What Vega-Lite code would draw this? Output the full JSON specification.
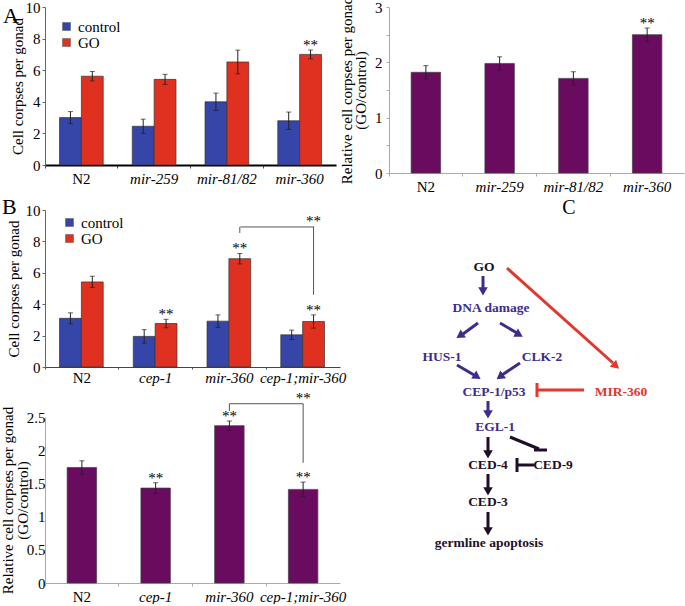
{
  "$schema": "https://vega.github.io/schema/vega-lite/v6.json",
  "padding": {"left": 0, "top": -4, "right": 0, "bottom": 0},
  "background": "white",
  "spacing": 2,
  "resolve": {"scale": {"color": "independent"}, "legend": {"color": "independent"}},
  "config": {
    "font": "Liberation Serif",
    "view": {"stroke": null},
    "axis": {"labelFont": "Liberation Serif", "titleFont": "Liberation Serif", "labelFontSize": 15, "titleFontSize": 15, "titleFontWeight": "normal", "labelColor": "#000", "titleColor": "#000", "grid": false, "domainColor": "#888", "tickColor": "#888", "labelOverlap": false},
    "axisY": {"labelOverlap": false, "labelSeparation": -30},
    "legend": {"labelFont": "Liberation Serif", "labelFontSize": 15, "labelColor": "#000"},
    "title": {"font": "Liberation Serif", "fontSize": 22, "fontWeight": "normal", "color": "#000"},
    "text": {"font": "Liberation Serif"}
  },
  "datasets": {
    "a1": [
      {"strain": "N2", "group": "control", "mean": 3.0, "lo": 2.62, "hi": 3.38, "sig": ""},
      {"strain": "N2", "group": "GO", "mean": 5.62, "lo": 5.32, "hi": 5.92, "sig": ""},
      {"strain": "mir-259", "group": "control", "mean": 2.45, "lo": 2.0, "hi": 2.9, "sig": ""},
      {"strain": "mir-259", "group": "GO", "mean": 5.42, "lo": 5.1, "hi": 5.74, "sig": ""},
      {"strain": "mir-81/82", "group": "control", "mean": 4.0, "lo": 3.45, "hi": 4.55, "sig": ""},
      {"strain": "mir-81/82", "group": "GO", "mean": 6.52, "lo": 5.77, "hi": 7.27, "sig": ""},
      {"strain": "mir-360", "group": "control", "mean": 2.8, "lo": 2.25, "hi": 3.35, "sig": ""},
      {"strain": "mir-360", "group": "GO", "mean": 7.0, "lo": 6.72, "hi": 7.28, "sig": "**"}
    ],
    "a2": [
      {"strain": "N2", "mean": 1.82, "lo": 1.7, "hi": 1.94, "sig": ""},
      {"strain": "mir-259", "mean": 1.98, "lo": 1.86, "hi": 2.1, "sig": ""},
      {"strain": "mir-81/82", "mean": 1.71, "lo": 1.59, "hi": 1.83, "sig": ""},
      {"strain": "mir-360", "mean": 2.5, "lo": 2.38, "hi": 2.62, "sig": "**"}
    ],
    "b1": [
      {"strain": "N2", "group": "control", "mean": 3.1, "lo": 2.75, "hi": 3.45, "sig": ""},
      {"strain": "N2", "group": "GO", "mean": 5.42, "lo": 5.06, "hi": 5.78, "sig": ""},
      {"strain": "cep-1", "group": "control", "mean": 1.95, "lo": 1.52, "hi": 2.38, "sig": ""},
      {"strain": "cep-1", "group": "GO", "mean": 2.77, "lo": 2.5, "hi": 3.04, "sig": "**"},
      {"strain": "mir-360", "group": "control", "mean": 2.92, "lo": 2.52, "hi": 3.32, "sig": ""},
      {"strain": "mir-360", "group": "GO", "mean": 6.9, "lo": 6.57, "hi": 7.23, "sig": "**"},
      {"strain": "cep-1;mir-360", "group": "control", "mean": 2.05, "lo": 1.75, "hi": 2.35, "sig": ""},
      {"strain": "cep-1;mir-360", "group": "GO", "mean": 2.9, "lo": 2.48, "hi": 3.32, "sig": "**"}
    ],
    "b1legs": [
      {"strain": "mir-360", "group": "GO", "top": 8.92, "bottom": 8.54, "sig": ""},
      {"strain": "cep-1;mir-360", "group": "GO", "top": 8.92, "bottom": 4.6, "sig": "**"}
    ],
    "b1span": [{"from": "mir-360", "to": "cep-1;mir-360", "level": 8.92}],
    "b2": [
      {"strain": "N2", "mean": 1.74, "lo": 1.64, "hi": 1.84, "sig": ""},
      {"strain": "cep-1", "mean": 1.43, "lo": 1.35, "hi": 1.51, "sig": "**"},
      {"strain": "mir-360", "mean": 2.37, "lo": 2.3, "hi": 2.44, "sig": "**"},
      {"strain": "cep-1;mir-360", "mean": 1.41, "lo": 1.3, "hi": 1.52, "sig": "**"}
    ],
    "b2legs": [
      {"strain": "mir-360", "top": 2.7, "bottom": 2.59, "sig": ""},
      {"strain": "cep-1;mir-360", "top": 2.7, "bottom": 1.81, "sig": "**"}
    ],
    "b2span": [{"from": "mir-360", "to": "cep-1;mir-360", "level": 2.7}],
    "cText": [
      {"label": "GO", "x": 483, "y": 267, "role": "input"},
      {"label": "DNA damage", "x": 490, "y": 308, "role": "pathway"},
      {"label": "HUS-1", "x": 441, "y": 357, "role": "pathway"},
      {"label": "CLK-2", "x": 541, "y": 357, "role": "pathway"},
      {"label": "CEP-1/p53", "x": 493, "y": 392, "role": "pathway"},
      {"label": "MIR-360", "x": 620, "y": 392, "role": "mirna"},
      {"label": "EGL-1", "x": 494, "y": 427, "role": "pathway"},
      {"label": "CED-4", "x": 487, "y": 465, "role": "apoptosis"},
      {"label": "CED-9", "x": 552, "y": 465, "role": "apoptosis"},
      {"label": "CED-3", "x": 487, "y": 502, "role": "apoptosis"},
      {"label": "germline apoptosis", "x": 488, "y": 543, "role": "apoptosis"}
    ],
    "cLines": [
      {"x": 482, "y": 276, "x2": 482, "y2": 288, "role": "pathway"},
      {"x": 477, "y": 323, "x2": 462, "y2": 334, "role": "pathway"},
      {"x": 499, "y": 323, "x2": 516, "y2": 333, "role": "pathway"},
      {"x": 456, "y": 365, "x2": 473, "y2": 375, "role": "pathway"},
      {"x": 519, "y": 363, "x2": 501, "y2": 375, "role": "pathway"},
      {"x": 487, "y": 401, "x2": 487, "y2": 411, "role": "pathway"},
      {"x": 487, "y": 437, "x2": 487, "y2": 451, "role": "apoptosis"},
      {"x": 487, "y": 474, "x2": 487, "y2": 488, "role": "apoptosis"},
      {"x": 487, "y": 512, "x2": 487, "y2": 528, "role": "apoptosis"},
      {"x": 506, "y": 268, "x2": 612, "y2": 363, "role": "mirna"},
      {"x": 583, "y": 390, "x2": 536, "y2": 390, "role": "mirna"},
      {"x": 536, "y": 383, "x2": 536, "y2": 397, "role": "mirna"},
      {"x": 533, "y": 465, "x2": 516, "y2": 465, "role": "apoptosis"},
      {"x": 516, "y": 458, "x2": 516, "y2": 472, "role": "apoptosis"},
      {"x": 509, "y": 437, "x2": 538, "y2": 449, "role": "apoptosis"},
      {"x": 533, "y": 450, "x2": 546, "y2": 450, "role": "apoptosis"}
    ],
    "cHeads": [
      {"x": 482, "y": 290, "angle": 180, "role": "pathway"},
      {"x": 460, "y": 335, "angle": -124, "role": "pathway"},
      {"x": 517, "y": 334, "angle": 120, "role": "pathway"},
      {"x": 475, "y": 376, "angle": 122, "role": "pathway"},
      {"x": 500, "y": 376, "angle": -127, "role": "pathway"},
      {"x": 487, "y": 413, "angle": 180, "role": "pathway"},
      {"x": 487, "y": 453, "angle": 180, "role": "apoptosis"},
      {"x": 487, "y": 490, "angle": 180, "role": "apoptosis"},
      {"x": 487, "y": 530, "angle": 180, "role": "apoptosis"},
      {"x": 614, "y": 365, "angle": 132, "role": "mirna"}
    ],
    "cLetter": [{"label": "C", "x": 568, "y": 208}]
  },
  "vconcat": [
    {
      "spacing": 3,
      "resolve": {"scale": {"color": "independent"}, "legend": {"color": "independent"}},
      "hconcat": [
        {
          "width": 291, "height": 158,
          "title": {"text": "A", "anchor": "start", "frame": "group", "orient": "top", "dx": -42, "offset": -28, "font": "Liberation Serif"},
          "data": {"name": "a1"},
          "encoding": {
            "x": {"field": "strain", "type": "nominal", "scale": {"domain": ["N2", "mir-259", "mir-81/82", "mir-360"], "paddingInner": 0, "paddingOuter": 0},
              "axis": {"title": null, "labelAngle": 0, "bandPosition": 0, "tickSize": 3, "labelPadding": 3, "domainColor": "#000", "domainWidth": 2, "tickColor": "#555",
                "labelFontStyle": {"condition": {"test": "datum.value == 'N2'", "value": "normal"}, "value": "italic"}}}
          },
          "layer": [
            {"mark": {"type": "bar", "stroke": "#333", "strokeWidth": 0.7},
             "encoding": {
               "xOffset": {"field": "group", "type": "nominal", "scale": {"domain": ["control", "GO"], "paddingOuter": 0.665, "paddingInner": 0}},
               "y": {"field": "mean", "type": "quantitative", "scale": {"domain": [0, 10], "nice": false},
                 "axis": {"title": "Cell corpses per gonad", "values": [0, 2, 4, 6, 8, 10], "format": "d", "labelOverlap": false, "labelSeparation": -30, "tickSize": 3, "labelPadding": 2, "titlePadding": 0, "domainColor": "#666", "tickColor": "#666"}},
               "color": {"field": "group", "type": "nominal", "scale": {"domain": ["control", "GO"], "range": ["#3545a8", "#e0301f"]},
                 "legend": {"title": null, "orient": "none", "legendX": 14, "legendY": 12, "symbolType": "square", "symbolSize": 64, "symbolStrokeColor": "#555", "symbolStrokeWidth": 0.5, "labelOffset": 4, "rowPadding": -6}}}},
            {"mark": {"type": "rule", "color": "#222", "strokeWidth": 1},
             "encoding": {"xOffset": {"field": "group", "type": "nominal"}, "y": {"field": "lo", "type": "quantitative", "axis": {"title": "Cell corpses per gonad", "values": [0, 2, 4, 6, 8, 10], "format": "d", "labelOverlap": false, "labelSeparation": -30, "tickSize": 3, "labelPadding": 2, "titlePadding": 0, "domainColor": "#666", "tickColor": "#666"}}, "y2": {"field": "hi"}}},
            {"mark": {"type": "tick", "color": "#222", "size": 5, "thickness": 1},
             "encoding": {"xOffset": {"field": "group", "type": "nominal"}, "y": {"field": "lo", "type": "quantitative", "axis": {"title": "Cell corpses per gonad", "values": [0, 2, 4, 6, 8, 10], "format": "d", "labelOverlap": false, "labelSeparation": -30, "tickSize": 3, "labelPadding": 2, "titlePadding": 0, "domainColor": "#666", "tickColor": "#666"}}}},
            {"mark": {"type": "tick", "color": "#222", "size": 5, "thickness": 1},
             "encoding": {"xOffset": {"field": "group", "type": "nominal"}, "y": {"field": "hi", "type": "quantitative", "axis": {"title": "Cell corpses per gonad", "values": [0, 2, 4, 6, 8, 10], "format": "d", "labelOverlap": false, "labelSeparation": -30, "tickSize": 3, "labelPadding": 2, "titlePadding": 0, "domainColor": "#666", "tickColor": "#666"}}}},
            {"mark": {"type": "text", "baseline": "middle", "dy": -5, "fontSize": 15},
             "encoding": {"xOffset": {"field": "group", "type": "nominal"}, "y": {"field": "hi", "type": "quantitative", "axis": {"title": "Cell corpses per gonad", "values": [0, 2, 4, 6, 8, 10], "format": "d", "labelOverlap": false, "labelSeparation": -30, "tickSize": 3, "labelPadding": 2, "titlePadding": 0, "domainColor": "#666", "tickColor": "#666"}}, "text": {"field": "sig"}}}
          ]
        },
        {
          "width": 295, "height": 166,
          "data": {"name": "a2"},
          "encoding": {
            "x": {"field": "strain", "type": "nominal", "scale": {"domain": ["N2", "mir-259", "mir-81/82", "mir-360"], "paddingInner": 0, "paddingOuter": 0},
              "axis": {"title": null, "labelAngle": 0, "bandPosition": 0, "tickSize": 3, "labelPadding": 3, "domainColor": "#aaa", "tickColor": "#aaa",
                "labelFontStyle": {"condition": {"test": "datum.value == 'N2'", "value": "normal"}, "value": "italic"}}}
          },
          "layer": [
            {"mark": {"type": "bar", "width": {"band": 0.4}, "fill": "#690b5e", "stroke": "#444", "strokeWidth": 0.7},
             "encoding": {"y": {"field": "mean", "type": "quantitative", "scale": {"domain": [0, 3], "nice": false},
               "axis": {"title": ["Relative cell corpses per gonad", "(GO/control)"], "values": [0, 0.5, 1, 1.5, 2, 2.5, 3], "format": ".1~f", "labelExpr": "datum.value % 1 === 0 ? datum.label : ''", "labelOverlap": false, "labelSeparation": -30, "tickSize": 3, "labelPadding": 4, "titlePadding": 6, "titleLineHeight": 14, "domainColor": "#aaa", "tickColor": "#aaa"}}}},
            {"mark": {"type": "rule", "color": "#222", "strokeWidth": 1},
             "encoding": {"y": {"field": "lo", "type": "quantitative", "axis": {"title": ["Relative cell corpses per gonad", "(GO/control)"], "values": [0, 0.5, 1, 1.5, 2, 2.5, 3], "format": ".1~f", "labelExpr": "datum.value % 1 === 0 ? datum.label : ''", "labelOverlap": false, "labelSeparation": -30, "tickSize": 3, "labelPadding": 4, "titlePadding": 6, "titleLineHeight": 14, "domainColor": "#aaa", "tickColor": "#aaa"}}, "y2": {"field": "hi"}}},
            {"mark": {"type": "tick", "color": "#222", "size": 5, "thickness": 1},
             "encoding": {"y": {"field": "lo", "type": "quantitative", "axis": {"title": ["Relative cell corpses per gonad", "(GO/control)"], "values": [0, 0.5, 1, 1.5, 2, 2.5, 3], "format": ".1~f", "labelExpr": "datum.value % 1 === 0 ? datum.label : ''", "labelOverlap": false, "labelSeparation": -30, "tickSize": 3, "labelPadding": 4, "titlePadding": 6, "titleLineHeight": 14, "domainColor": "#aaa", "tickColor": "#aaa"}}}},
            {"mark": {"type": "tick", "color": "#222", "size": 5, "thickness": 1},
             "encoding": {"y": {"field": "hi", "type": "quantitative", "axis": {"title": ["Relative cell corpses per gonad", "(GO/control)"], "values": [0, 0.5, 1, 1.5, 2, 2.5, 3], "format": ".1~f", "labelExpr": "datum.value % 1 === 0 ? datum.label : ''", "labelOverlap": false, "labelSeparation": -30, "tickSize": 3, "labelPadding": 4, "titlePadding": 6, "titleLineHeight": 14, "domainColor": "#aaa", "tickColor": "#aaa"}}}},
            {"mark": {"type": "text", "baseline": "middle", "dy": -5, "fontSize": 15},
             "encoding": {"y": {"field": "hi", "type": "quantitative", "axis": {"title": ["Relative cell corpses per gonad", "(GO/control)"], "values": [0, 0.5, 1, 1.5, 2, 2.5, 3], "format": ".1~f", "labelExpr": "datum.value % 1 === 0 ? datum.label : ''", "labelOverlap": false, "labelSeparation": -30, "tickSize": 3, "labelPadding": 4, "titlePadding": 6, "titleLineHeight": 14, "domainColor": "#aaa", "tickColor": "#aaa"}}, "text": {"field": "sig"}}}
          ]
        }
      ]
    },
    {
      "spacing": 35,
      "resolve": {"scale": {"color": "independent"}, "legend": {"color": "independent"}},
      "hconcat": [
        {
          "bounds": "flush",
          "spacing": 50,
          "vconcat": [
            {
              "width": 295, "height": 157,
              "title": {"text": "B", "anchor": "start", "frame": "group", "orient": "top", "dx": -43, "offset": -16, "font": "Liberation Serif"},
              "data": {"name": "b1"},
              "encoding": {
                "x": {"field": "strain", "type": "nominal", "scale": {"domain": ["N2", "cep-1", "mir-360", "cep-1;mir-360"], "paddingInner": 0, "paddingOuter": 0},
                  "axis": {"title": null, "labelAngle": 0, "bandPosition": 0, "tickSize": 2, "labelPadding": 1, "domainColor": "#444", "tickColor": "#555",
                    "labelFontStyle": {"condition": {"test": "datum.value == 'N2'", "value": "normal"}, "value": "italic"}}}
              },
              "layer": [
                {"mark": {"type": "bar", "stroke": "#333", "strokeWidth": 0.7},
                 "encoding": {
                   "xOffset": {"field": "group", "type": "nominal", "scale": {"domain": ["control", "GO"], "paddingOuter": 0.665, "paddingInner": 0}},
                   "y": {"field": "mean", "type": "quantitative", "scale": {"domain": [0, 10], "nice": false},
                     "axis": {"title": "Cell corpses per gonad", "values": [0, 2, 4, 6, 8, 10], "format": "d", "labelOverlap": false, "labelSeparation": -30, "tickSize": 3, "labelPadding": 2, "titlePadding": 4, "domainColor": "#666", "tickColor": "#666"}},
                   "color": {"field": "group", "type": "nominal", "scale": {"domain": ["control", "GO"], "range": ["#3545a8", "#e0301f"]},
                     "legend": {"title": null, "orient": "none", "legendX": 17, "legendY": 5, "symbolType": "square", "symbolSize": 64, "symbolStrokeColor": "#555", "symbolStrokeWidth": 0.5, "labelOffset": 4, "rowPadding": -6}}}},
                {"mark": {"type": "rule", "color": "#222", "strokeWidth": 1},
                 "encoding": {"xOffset": {"field": "group", "type": "nominal"}, "y": {"field": "lo", "type": "quantitative", "axis": {"title": "Cell corpses per gonad", "values": [0, 2, 4, 6, 8, 10], "format": "d", "labelOverlap": false, "labelSeparation": -30, "tickSize": 3, "labelPadding": 2, "titlePadding": 4, "domainColor": "#666", "tickColor": "#666"}}, "y2": {"field": "hi"}}},
                {"mark": {"type": "tick", "color": "#222", "size": 5, "thickness": 1},
                 "encoding": {"xOffset": {"field": "group", "type": "nominal"}, "y": {"field": "lo", "type": "quantitative", "axis": {"title": "Cell corpses per gonad", "values": [0, 2, 4, 6, 8, 10], "format": "d", "labelOverlap": false, "labelSeparation": -30, "tickSize": 3, "labelPadding": 2, "titlePadding": 4, "domainColor": "#666", "tickColor": "#666"}}}},
                {"mark": {"type": "tick", "color": "#222", "size": 5, "thickness": 1},
                 "encoding": {"xOffset": {"field": "group", "type": "nominal"}, "y": {"field": "hi", "type": "quantitative", "axis": {"title": "Cell corpses per gonad", "values": [0, 2, 4, 6, 8, 10], "format": "d", "labelOverlap": false, "labelSeparation": -30, "tickSize": 3, "labelPadding": 2, "titlePadding": 4, "domainColor": "#666", "tickColor": "#666"}}}},
                {"mark": {"type": "text", "baseline": "middle", "dy": -5, "fontSize": 15},
                 "encoding": {"xOffset": {"field": "group", "type": "nominal"}, "y": {"field": "hi", "type": "quantitative", "axis": {"title": "Cell corpses per gonad", "values": [0, 2, 4, 6, 8, 10], "format": "d", "labelOverlap": false, "labelSeparation": -30, "tickSize": 3, "labelPadding": 2, "titlePadding": 4, "domainColor": "#666", "tickColor": "#666"}}, "text": {"field": "sig"}}},
                {"data": {"name": "b1legs"}, "mark": {"type": "rule", "color": "#555", "strokeWidth": 1},
                 "encoding": {"xOffset": {"field": "group", "type": "nominal"}, "y": {"field": "top", "type": "quantitative", "axis": {"title": "Cell corpses per gonad", "values": [0, 2, 4, 6, 8, 10], "format": "d", "labelOverlap": false, "labelSeparation": -30, "tickSize": 3, "labelPadding": 2, "titlePadding": 4, "domainColor": "#666", "tickColor": "#666"}}, "y2": {"field": "bottom"}}},
                {"data": {"name": "b1legs"}, "mark": {"type": "text", "baseline": "middle", "dy": -6, "fontSize": 15},
                 "encoding": {"xOffset": {"field": "group", "type": "nominal"}, "y": {"field": "top", "type": "quantitative", "axis": {"title": "Cell corpses per gonad", "values": [0, 2, 4, 6, 8, 10], "format": "d", "labelOverlap": false, "labelSeparation": -30, "tickSize": 3, "labelPadding": 2, "titlePadding": 4, "domainColor": "#666", "tickColor": "#666"}}, "text": {"field": "sig"}}},
                {"data": {"name": "b1span"}, "mark": {"type": "rule", "color": "#555", "strokeWidth": 1, "xOffset": 11, "x2Offset": 11},
                 "encoding": {"x": {"field": "from", "type": "nominal"}, "x2": {"field": "to"}, "y": {"field": "level", "type": "quantitative", "axis": {"title": "Cell corpses per gonad", "values": [0, 2, 4, 6, 8, 10], "format": "d", "labelOverlap": false, "labelSeparation": -30, "tickSize": 3, "labelPadding": 2, "titlePadding": 4, "domainColor": "#666", "tickColor": "#666"}}}}
              ]
            },
            {
              "width": 295, "height": 166,
              "data": {"name": "b2"},
              "encoding": {
                "x": {"field": "strain", "type": "nominal", "scale": {"domain": ["N2", "cep-1", "mir-360", "cep-1;mir-360"], "paddingInner": 0, "paddingOuter": 0},
                  "axis": {"title": null, "labelAngle": 0, "bandPosition": 0, "tickSize": 3, "labelPadding": 3, "domainColor": "#aaa", "tickColor": "#aaa",
                    "labelFontStyle": {"condition": {"test": "datum.value == 'N2'", "value": "normal"}, "value": "italic"}}}
              },
              "layer": [
                {"mark": {"type": "bar", "width": {"band": 0.4}, "fill": "#690b5e", "stroke": "#444", "strokeWidth": 0.7},
                 "encoding": {"y": {"field": "mean", "type": "quantitative", "scale": {"domain": [0, 2.5], "nice": false},
                   "axis": {"title": ["Relative cell corpses per gonad", "(GO/control)"], "values": [0, 0.5, 1, 1.5, 2, 2.5], "format": ".1~f", "labelOverlap": false, "labelSeparation": -30, "tickSize": 0, "labelPadding": 0, "titlePadding": -4, "titleLineHeight": 15, "domainColor": "#aaa", "tickColor": "#aaa"}}}},
                {"mark": {"type": "rule", "color": "#222", "strokeWidth": 1},
                 "encoding": {"y": {"field": "lo", "type": "quantitative", "axis": {"title": ["Relative cell corpses per gonad", "(GO/control)"], "values": [0, 0.5, 1, 1.5, 2, 2.5], "format": ".1~f", "labelOverlap": false, "labelSeparation": -30, "tickSize": 0, "labelPadding": 0, "titlePadding": -4, "titleLineHeight": 15, "domainColor": "#aaa", "tickColor": "#aaa"}}, "y2": {"field": "hi"}}},
                {"mark": {"type": "tick", "color": "#222", "size": 5, "thickness": 1},
                 "encoding": {"y": {"field": "lo", "type": "quantitative", "axis": {"title": ["Relative cell corpses per gonad", "(GO/control)"], "values": [0, 0.5, 1, 1.5, 2, 2.5], "format": ".1~f", "labelOverlap": false, "labelSeparation": -30, "tickSize": 0, "labelPadding": 0, "titlePadding": -4, "titleLineHeight": 15, "domainColor": "#aaa", "tickColor": "#aaa"}}}},
                {"mark": {"type": "tick", "color": "#222", "size": 5, "thickness": 1},
                 "encoding": {"y": {"field": "hi", "type": "quantitative", "axis": {"title": ["Relative cell corpses per gonad", "(GO/control)"], "values": [0, 0.5, 1, 1.5, 2, 2.5], "format": ".1~f", "labelOverlap": false, "labelSeparation": -30, "tickSize": 0, "labelPadding": 0, "titlePadding": -4, "titleLineHeight": 15, "domainColor": "#aaa", "tickColor": "#aaa"}}}},
                {"mark": {"type": "text", "baseline": "middle", "dy": -5, "fontSize": 15},
                 "encoding": {"y": {"field": "hi", "type": "quantitative", "axis": {"title": ["Relative cell corpses per gonad", "(GO/control)"], "values": [0, 0.5, 1, 1.5, 2, 2.5], "format": ".1~f", "labelOverlap": false, "labelSeparation": -30, "tickSize": 0, "labelPadding": 0, "titlePadding": -4, "titleLineHeight": 15, "domainColor": "#aaa", "tickColor": "#aaa"}}, "text": {"field": "sig"}}},
                {"data": {"name": "b2legs"}, "mark": {"type": "rule", "color": "#555", "strokeWidth": 1},
                 "encoding": {"y": {"field": "top", "type": "quantitative", "axis": {"title": ["Relative cell corpses per gonad", "(GO/control)"], "values": [0, 0.5, 1, 1.5, 2, 2.5], "format": ".1~f", "labelOverlap": false, "labelSeparation": -30, "tickSize": 0, "labelPadding": 0, "titlePadding": -4, "titleLineHeight": 15, "domainColor": "#aaa", "tickColor": "#aaa"}}, "y2": {"field": "bottom"}}},
                {"data": {"name": "b2legs"}, "mark": {"type": "text", "baseline": "middle", "dy": -6, "fontSize": 15},
                 "encoding": {"y": {"field": "top", "type": "quantitative", "axis": {"title": ["Relative cell corpses per gonad", "(GO/control)"], "values": [0, 0.5, 1, 1.5, 2, 2.5], "format": ".1~f", "labelOverlap": false, "labelSeparation": -30, "tickSize": 0, "labelPadding": 0, "titlePadding": -4, "titleLineHeight": 15, "domainColor": "#aaa", "tickColor": "#aaa"}}, "text": {"field": "sig"}}},
                {"data": {"name": "b2span"}, "mark": {"type": "rule", "color": "#555", "strokeWidth": 1},
                 "encoding": {"x": {"field": "from", "type": "nominal"}, "x2": {"field": "to"}, "y": {"field": "level", "type": "quantitative", "axis": {"title": ["Relative cell corpses per gonad", "(GO/control)"], "values": [0, 0.5, 1, 1.5, 2, 2.5], "format": ".1~f", "labelOverlap": false, "labelSeparation": -30, "tickSize": 0, "labelPadding": 0, "titlePadding": -4, "titleLineHeight": 15, "domainColor": "#aaa", "tickColor": "#aaa"}}}}
              ]
            }
          ]
        },
        {
          "width": 305, "height": 350,
          "encoding": {
            "x": {"field": "x", "type": "quantitative", "scale": {"domain": [380, 685], "nice": false, "zero": false}, "axis": null},
            "y": {"field": "y", "type": "quantitative", "scale": {"domain": [210, 560], "nice": false, "zero": false, "reverse": true}, "axis": null}
          },
          "layer": [
            {"data": {"name": "cLines"}, "mark": {"type": "rule", "strokeWidth": 3, "strokeCap": "butt"},
             "encoding": {"x2": {"field": "x2"}, "y2": {"field": "y2"},
               "color": {"field": "role", "type": "nominal", "scale": {"domain": ["input", "pathway", "mirna", "apoptosis"], "range": ["#111111", "#3b2d8e", "#e2372b", "#1f0f26"]}, "legend": null}}},
            {"data": {"name": "cHeads"}, "mark": {"type": "point", "shape": "triangle", "filled": true, "size": 90, "opacity": 1, "strokeWidth": 0},
             "encoding": {"angle": {"field": "angle", "type": "quantitative", "scale": null},
               "color": {"field": "role", "type": "nominal", "legend": null}}},
            {"data": {"name": "cText"}, "mark": {"type": "text", "fontWeight": "bold", "fontSize": 13.5},
             "encoding": {"text": {"field": "label"}, "color": {"field": "role", "type": "nominal", "legend": null}}},
            {"data": {"name": "cLetter"}, "mark": {"type": "text", "fontSize": 20, "color": "#000"},
             "encoding": {"text": {"field": "label"}}}
          ]
        }
      ]
    }
  ]
}
